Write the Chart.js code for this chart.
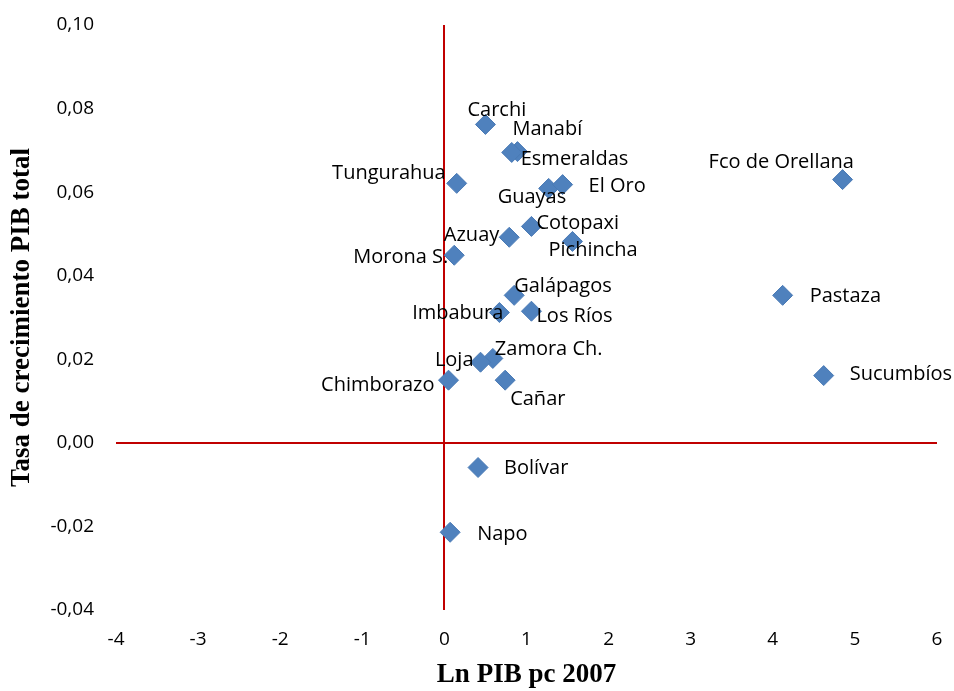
<!DOCTYPE html>
<html>
<head>
<meta charset="utf-8">
<script src="https://cdn.jsdelivr.net/npm/chart.js@4/dist/chart.umd.min.js"></script>
<style>
  html, body { margin: 0; padding: 0; background: #fff; }
  #wrap { width: 954px; height: 691px; }
</style>
</head>
<body>
<div id="wrap"><canvas id="graphCanvas" width="954" height="691"></canvas></div>
<script>
// provincias, Ln PIB pc 2007 (x) y tasa de crecimiento PIB total (y)
var provincias = ['Carchi', 'Manabí', 'Esmeraldas', 'Tungurahua', 'Guayas', 'El Oro',
    'Cotopaxi', 'Azuay', 'Pichincha', 'Morona S.', 'Galápagos', 'Imbabura', 'Los Ríos',
    'Zamora Ch.', 'Loja', 'Chimborazo', 'Cañar', 'Bolívar', 'Napo',
    'Fco de Orellana', 'Pastaza', 'Sucumbíos'];
var lnPib = [0.50, 0.89, 0.82, 0.15, 1.27, 1.44,
    1.06, 0.79, 1.56, 0.12, 0.85, 0.67, 1.06,
    0.59, 0.44, 0.05, 0.74, 0.41, 0.07,
    4.85, 4.12, 4.62];
var tasa = [0.0762, 0.0697, 0.0695, 0.0621, 0.0609, 0.0618,
    0.0518, 0.0492, 0.0482, 0.0449, 0.0353, 0.0312, 0.0315,
    0.0202, 0.0193, 0.0150, 0.0150, -0.0059, -0.0214,
    0.0630, 0.0353, 0.0161];
var xTicks = [-4, -3, -2, -1, 0, 1, 2, 3, 4, 5, 6];
var yTicks = [-0.04, -0.02, 0.00, 0.02, 0.04, 0.06, 0.08, 0.10];

// where each label sits relative to its point (px), like the excel labels were dragged
var labelPos = [
    [-18, -14, 'left'], [-5, -22, 'left'], [9, 7, 'left'], [-11, -10, 'right'],
    [-51, 9, 'left'], [26, 2, 'left'], [5, -3, 'left'], [-10, -2, 'right'],
    [-24, 9, 'left'], [-6, 2, 'right'], [0, -9, 'left'], [4, 1, 'right'],
    [5, 5, 'left'], [2, -9, 'left'], [-7, -2, 'right'], [-14, 5, 'right'],
    [5, 19, 'left'], [26, 1, 'left'], [27, 2, 'left'],
    [-134, -17, 'left'], [27, 1, 'left'], [26, -1, 'left']
];

var puntos = [];
for (var i in provincias) {
    puntos.push({ x: lnPib[i], y: tasa[i] });
}

var etiquetas = {
    id: 'etiquetas',
    afterDatasetsDraw: function (chart) {
        var ctx = chart.ctx;
        var meta = chart.getDatasetMeta(0);
        ctx.save();
        ctx.font = '20px "Open Sans"';
        ctx.fillStyle = '#000';
        ctx.textBaseline = 'middle';
        meta.data.forEach(function (pt, i) {
            var p = labelPos[i];
            ctx.textAlign = p[2];
            ctx.fillText(provincias[i], pt.x + p[0], pt.y + p[1]);
        });
        ctx.restore();
    }
};

var rojo = '#C00000';

new Chart(document.getElementById('graphCanvas'), {
    type: 'scatter',
    data: {
        datasets: [{
            label: 'Provincias',
            data: puntos,
            pointStyle: 'rectRot',
            pointRadius: 10,
            pointHoverRadius: 10,
            backgroundColor: '#4F81BD',
            borderColor: '#4A7AB5',
            borderWidth: 1
        }]
    },
    options: {
        responsive: false,
        animation: false,
        layout: { padding: { top: 25, right: 17, left: 0, bottom: 0 } },
        plugins: {
            legend: { display: false },
            tooltip: { enabled: false }
        },
        scales: {
            x: {
                type: 'linear',
                min: -4,
                max: 6,
                afterBuildTicks: function (s) { s.ticks = xTicks.map(function (v) { return { value: v }; }); },
                afterFit: function (s) {
                    s.height = 81;
                    s.paddingLeft = 0;
                    s.paddingRight = 0;
                },
                border: { display: false },
                grid: {
                    drawTicks: false,
                    lineWidth: 2,
                    color: function (c) { return c.tick && c.tick.value === 0 ? rojo : 'rgba(0,0,0,0)'; }
                },
                ticks: {
                    padding: 18,
                    color: '#000',
                    font: { family: 'Open Sans', size: 19 },
                    callback: function (v) { return String(v); }
                },
                title: {
                    display: true,
                    text: 'Ln PIB pc 2007',
                    color: '#000',
                    padding: { top: 0, bottom: 0 },
                    font: { family: 'Liberation Serif', size: 27, weight: 'bold' }
                }
            },
            y: {
                type: 'linear',
                min: -0.04,
                max: 0.10,
                afterBuildTicks: function (s) { s.ticks = yTicks.map(function (v) { return { value: v }; }); },
                afterFit: function (s) {
                    s.width = 116;
                    s.paddingTop = 0;
                    s.paddingBottom = 0;
                },
                border: { display: false },
                grid: {
                    drawTicks: false,
                    lineWidth: 2,
                    color: function (c) { return c.tick && Math.abs(c.tick.value) < 1e-9 ? rojo : 'rgba(0,0,0,0)'; }
                },
                ticks: {
                    padding: 22,
                    color: '#000',
                    font: { family: 'Open Sans', size: 19 },
                    callback: function (v) { return v.toFixed(2).replace('.', ','); }
                },
                title: {
                    display: true,
                    text: 'Tasa de crecimiento PIB total',
                    color: '#000',
                    padding: { top: 6, bottom: 0 },
                    font: { family: 'Liberation Serif', size: 27, weight: 'bold' }
                }
            }
        }
    },
    plugins: [etiquetas]
});
</script>
</body>
</html>
